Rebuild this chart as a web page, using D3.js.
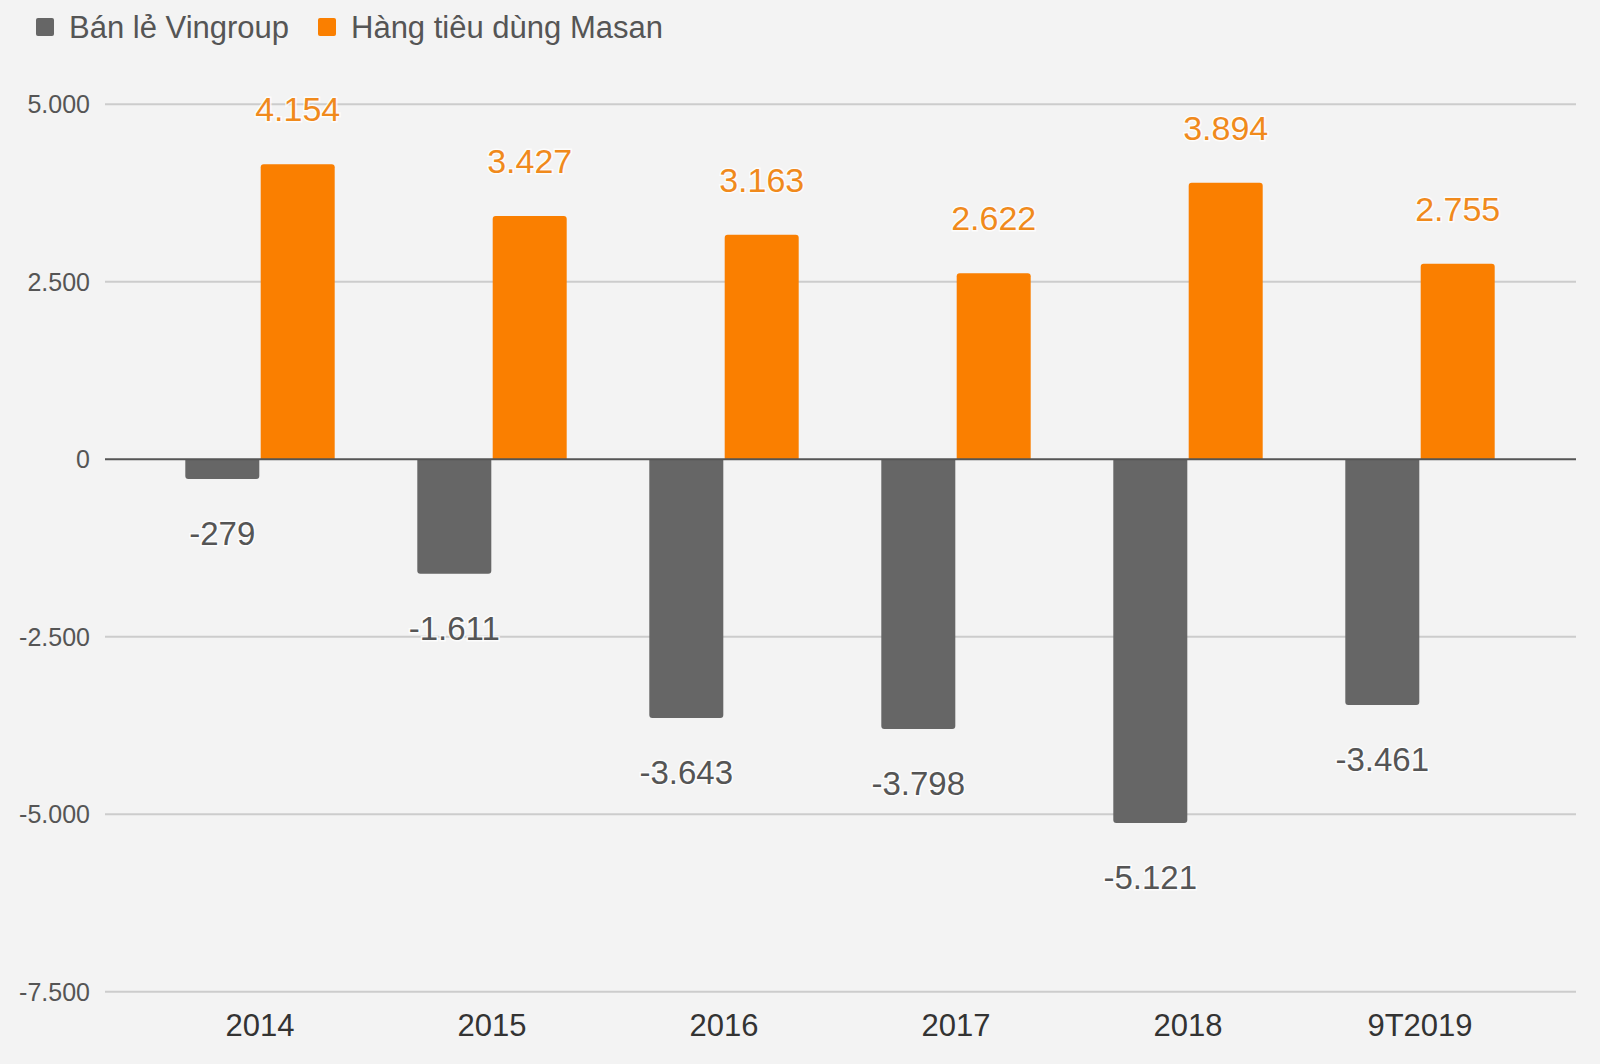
<!DOCTYPE html>
<html>
<head>
<meta charset="utf-8">
<script src="https://cdn.jsdelivr.net/npm/d3@7"></script>
<style>
  html, body { margin: 0; padding: 0; background: #f3f3f3; }
  svg { display: block; }
  text { font-family: "Liberation Sans", Arial, sans-serif; }
</style>
</head>
<body>
<svg id="chart" width="1600" height="1064"></svg>
<script>
const categories = ["2014", "2015", "2016", "2017", "2018", "9T2019"];
const seriesNames = ["Bán lẻ Vingroup", "Hàng tiêu dùng Masan"];
const vingroup = [-279, -1611, -3643, -3798, -5121, -3461];
const masan = [4154, 3427, 3163, 2622, 3894, 2755];
const yTicks = [5000, 2500, 0, -2500, -5000, -7500];

const colors = { vin: "#666666", masan: "#fa7f00", masanText: "#f08a1c", vinText: "#555555" };
const fmt = v => d3.format(",")(v).replace(/,/g, ".").replace(/\u2212/g, "-");

const svg = d3.select("#chart");
svg.append("rect").attr("width", 1600).attr("height", 1064).attr("fill", "#f3f3f3");

const x = d3.scaleBand().domain(categories).range([144, 1536]);
const y = d3.scaleLinear().domain([-7500, 5000]).range([991.8, 104.3]);
const gridX0 = 105, gridX1 = 1576;

// gridlines
svg.append("g").selectAll("line").data(yTicks.filter(d => d !== 0)).join("line")
  .attr("x1", gridX0).attr("x2", gridX1)
  .attr("y1", d => y(d)).attr("y2", d => y(d))
  .attr("stroke", "#cccccc").attr("stroke-width", 2);

// y axis labels
const yAxis = d3.axisLeft(y).tickValues(yTicks).tickSize(0).tickPadding(0).tickFormat(fmt);
const gy = svg.append("g").attr("transform", "translate(90,0)").call(yAxis);
gy.select(".domain").remove();
gy.selectAll("text").attr("font-size", 25).attr("fill", "#555555")
  .attr("font-family", "'Liberation Sans', Arial, sans-serif").attr("dy", "0.34em");

// x axis labels
const xAxis = d3.axisBottom(x).tickSize(0).tickPadding(0);
const gx = svg.append("g").attr("transform", "translate(0,1036)").call(xAxis);
gx.select(".domain").remove();
gx.selectAll("text").attr("font-size", 31).attr("fill", "#333333").attr("dy", 0)
  .attr("font-family", "'Liberation Sans', Arial, sans-serif");

const barW = 74, gap = 0.7;
const cx = d => x(d) + x.bandwidth() / 2;

function roundedBar(x0, w, yTop, yBot, r, roundTop) {
  const h = yBot - yTop;
  r = Math.min(r, h / 2);
  if (roundTop) {
    return `M${x0},${yBot} L${x0},${yTop + r} Q${x0},${yTop} ${x0 + r},${yTop} L${x0 + w - r},${yTop} Q${x0 + w},${yTop} ${x0 + w},${yTop + r} L${x0 + w},${yBot} Z`;
  } else {
    return `M${x0},${yTop} L${x0 + w},${yTop} L${x0 + w},${yBot - r} Q${x0 + w},${yBot} ${x0 + w - r},${yBot} L${x0 + r},${yBot} Q${x0},${yBot} ${x0},${yBot - r} Z`;
  }
}

const vinData = categories.map((c, i) => ({ c, v: vingroup[i] }));
const masData = categories.map((c, i) => ({ c, v: masan[i] }));

svg.append("g").selectAll("path").data(vinData).join("path")
  .attr("d", d => roundedBar(cx(d.c) - gap - barW, barW, y(0), y(d.v), 3, false))
  .attr("fill", colors.vin);

svg.append("g").selectAll("path").data(masData).join("path")
  .attr("d", d => roundedBar(cx(d.c) + gap, barW, y(d.v), y(0), 3, true))
  .attr("fill", colors.masan);

// zero line
svg.append("line").attr("x1", gridX0).attr("x2", gridX1)
  .attr("y1", y(0)).attr("y2", y(0)).attr("stroke", "#555555").attr("stroke-width", 2);

// value labels
svg.append("g").selectAll("text").data(masData).join("text")
  .attr("x", d => cx(d.c) + gap + barW / 2)
  .attr("y", d => y(d.v) - 43)
  .attr("text-anchor", "middle").attr("font-size", 34).attr("fill", colors.masanText)
  .attr("stroke", "#ffffff").attr("stroke-width", 3).attr("stroke-opacity", 0.8)
  .attr("paint-order", "stroke")
  .text(d => fmt(d.v));

svg.append("g").selectAll("text").data(vinData).join("text")
  .attr("x", d => cx(d.c) - gap - barW / 2)
  .attr("y", d => y(d.v) + 66)
  .attr("text-anchor", "middle").attr("font-size", 33).attr("fill", colors.vinText)
  .attr("stroke", "#ffffff").attr("stroke-width", 3).attr("stroke-opacity", 0.8)
  .attr("paint-order", "stroke")
  .text(d => fmt(d.v));

// legend
const legend = svg.append("g");
const legendItems = [
  { name: seriesNames[0], color: colors.vin, sx: 36, tx: 69 },
  { name: seriesNames[1], color: colors.masan, sx: 318, tx: 351 }
];
legendItems.forEach(it => {
  legend.append("rect").attr("x", it.sx).attr("y", 18).attr("width", 18).attr("height", 18)
    .attr("rx", 2).attr("fill", it.color);
  legend.append("text").attr("x", it.tx).attr("y", 38).attr("font-size", 31)
    .attr("fill", "#555555").text(it.name);
});
</script>
</body>
</html>
